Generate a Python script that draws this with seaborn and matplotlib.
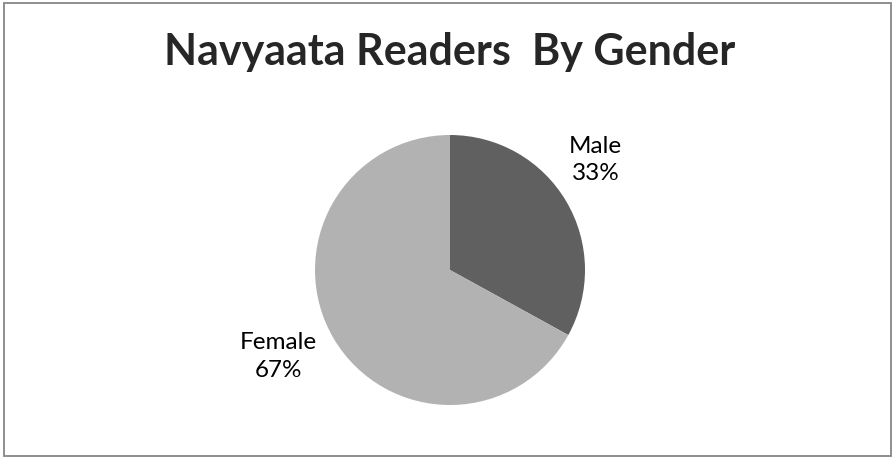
import matplotlib
matplotlib.use("Agg")
import matplotlib.pyplot as plt
import seaborn as sns

# data
genders = ["Male", "Female"]
shares = [33, 67]
slice_colors = ["#606060", "#b2b2b2"]

sns.set_style("white")
plt.rcParams["font.family"] = ["Lato", "DejaVu Sans"]

fig = plt.figure(figsize=(8.94, 4.58), dpi=100)

# pie axes, square 270x270 px centred at (450, 270)
ax = fig.add_axes([315 / 894, 53 / 458, 270 / 894, 270 / 458])
wedges, _ = ax.pie(shares, colors=slice_colors, startangle=90, counterclock=False,
                   radius=1, wedgeprops=dict(linewidth=0))
ax.set_xlim(-1, 1)
ax.set_ylim(-1, 1)
ax.set_aspect("equal")
ax.axis("off")

# labels placed like excel's best fit
label_pos = [(1.08, 0.815), (-1.27, -0.64)]
for name, val, (lx, ly) in zip(genders, shares, label_pos):
    ax.text(lx, ly, f"{name}\n{val}%", ha="center", va="center", fontsize=17.5,
            linespacing=1.4, color="black")

fig.text(450 / 894, 1 - 52 / 458, "Navyaata Readers  By Gender", ha="center", va="center",
         fontsize=31, fontweight="bold")

# outer border
border = plt.Rectangle((4 / 894, 2 / 458), 887 / 894, 453 / 458, transform=fig.transFigure,
                       fill=False, edgecolor="#868686", linewidth=1.3)
fig.patches.append(border)

fig.savefig("out.png", dpi=100)
